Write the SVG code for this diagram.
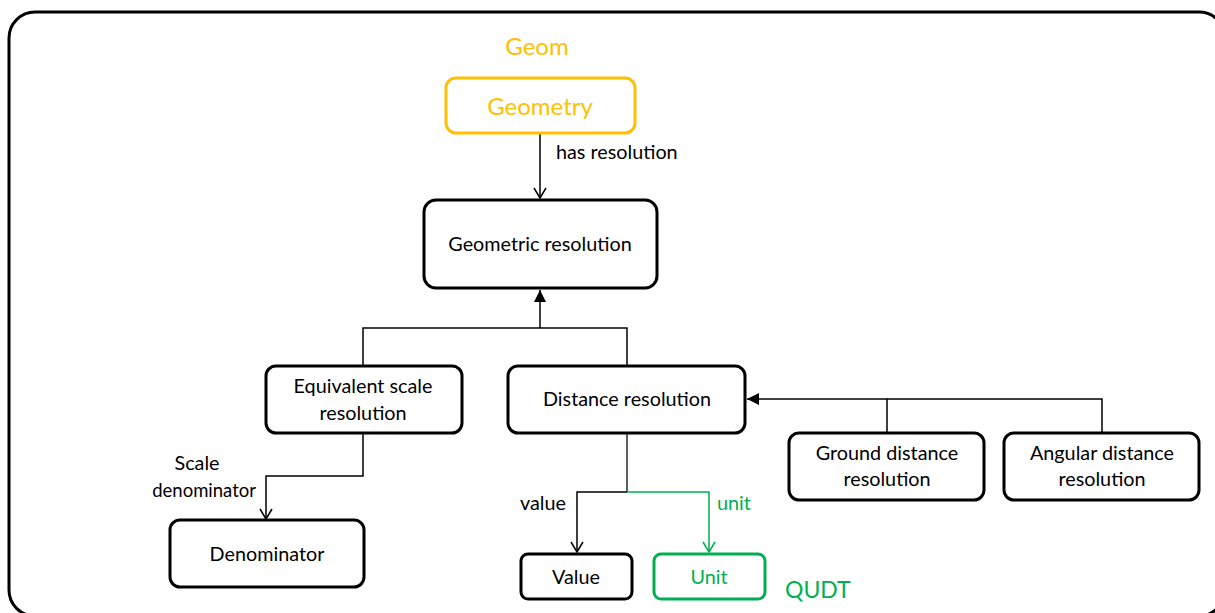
<svg xmlns="http://www.w3.org/2000/svg" width="1215" height="613" viewBox="0 0 1215 613">
<defs>
<style>
.box{fill:#fff;stroke:#000;stroke-width:3}
.t{font-family:Lato,"Open Sans",sans-serif;font-size:19.8px;fill:#000;text-anchor:middle}
.lbl{font-family:Lato,"Open Sans",sans-serif;font-size:19.8px;fill:#000}
.big{font-family:Lato,"Open Sans",sans-serif;font-size:24px}
.ln{fill:none;stroke:#000;stroke-width:1.5}
.g{stroke:#00B050}
</style>
<marker id="open" markerWidth="14" markerHeight="14" refX="12" refY="7" orient="auto" markerUnits="userSpaceOnUse" viewBox="0 0 14 14">
<path d="M2,1 L12,7 L2,13" fill="none" stroke="#000" stroke-width="1.5"/>
</marker>
<marker id="openg" markerWidth="14" markerHeight="14" refX="12" refY="7" orient="auto" markerUnits="userSpaceOnUse" viewBox="0 0 14 14">
<path d="M2,1 L12,7 L2,13" fill="none" stroke="#00B050" stroke-width="1.5"/>
</marker>
<marker id="fill" markerWidth="14" markerHeight="14" refX="12" refY="6" orient="auto" markerUnits="userSpaceOnUse" viewBox="0 0 14 12">
<path d="M0,0 L12,6 L0,12 Z" fill="#000"/>
</marker>
</defs>
<rect x="9" y="12" width="1216" height="604" rx="26" fill="#fff" stroke="#000" stroke-width="3"/>
<g id="connectors">
<line class="ln" x1="540" y1="134" x2="540" y2="198" marker-end="url(#open)"/>
<polyline class="ln" points="363,366 363,328 627,328 627,366"/>
<line class="ln" x1="540" y1="328" x2="540" y2="290" marker-end="url(#fill)"/>
<polyline class="ln" points="887,433 887,399 1102,399 1102,433"/>
<line class="ln" x1="887" y1="399" x2="747" y2="399" marker-end="url(#fill)"/>
<polyline class="ln" points="363,434 363,476 266,476 266,519" marker-end="url(#open)"/>
<line class="ln" x1="627" y1="434" x2="627" y2="492" style="stroke:#1e321e"/>
<polyline class="ln" points="627,492 577,492 577,552" marker-end="url(#open)"/>
<polyline class="ln g" points="627,492 709,492 709,552" marker-end="url(#openg)"/>
<text class="lbl" x="556" y="159">has resolution</text>
<text class="t" x="197" y="470">Scale</text>
<text class="lbl" x="256" y="497" style="font-size:18.5px;text-anchor:end">denominator</text>
<text class="lbl" x="520" y="510">value</text>
<text class="lbl" x="717" y="510" style="fill:#00B050">unit</text>
</g>
<g id="geom-label"><text class="big" x="537" y="55" style="fill:#FFC000;text-anchor:middle">Geom</text></g>
<g id="geometry">
<rect x="446" y="78" width="189" height="55" rx="10" fill="#fff" stroke="#FFC000" stroke-width="3"/>
<text class="big" x="540" y="115" style="fill:#FFC000;text-anchor:middle">Geometry</text>
</g>
<g id="geometric-resolution">
<rect class="box" x="424" y="200" width="233" height="88" rx="12"/>
<text class="t" x="540" y="251">Geometric resolution</text>
</g>
<g id="equivalent-scale-resolution">
<rect class="box" x="266" y="366" width="196" height="67" rx="10"/>
<text class="t" x="363" y="393">Equivalent scale</text>
<text class="t" x="363" y="420">resolution</text>
</g>
<g id="distance-resolution">
<rect class="box" x="508" y="366" width="237" height="67" rx="10"/>
<text class="t" x="627" y="406">Distance resolution</text>
</g>
<g id="ground-distance-resolution">
<rect class="box" x="789" y="433" width="195" height="67" rx="10"/>
<text class="t" x="887" y="460">Ground distance</text>
<text class="t" x="887" y="486">resolution</text>
</g>
<g id="angular-distance-resolution">
<rect class="box" x="1004" y="433" width="195" height="67" rx="10"/>
<text class="t" x="1102" y="460">Angular distance</text>
<text class="t" x="1102" y="486">resolution</text>
</g>
<g id="denominator">
<rect class="box" x="170" y="520" width="194" height="67" rx="10"/>
<text class="t" x="267" y="561">Denominator</text>
</g>
<g id="value">
<rect class="box" x="521" y="554" width="111" height="45" rx="7"/>
<text class="t" x="576" y="584">Value</text>
</g>
<g id="unit">
<rect x="654" y="554" width="111" height="45" rx="7" fill="#fff" stroke="#00B050" stroke-width="3"/>
<text class="t" x="709" y="584" style="fill:#00B050">Unit</text>
</g>
<g id="qudt-label"><text class="big" x="785" y="598" style="fill:#00B050;font-size:23px">QUDT</text></g>
</svg>
